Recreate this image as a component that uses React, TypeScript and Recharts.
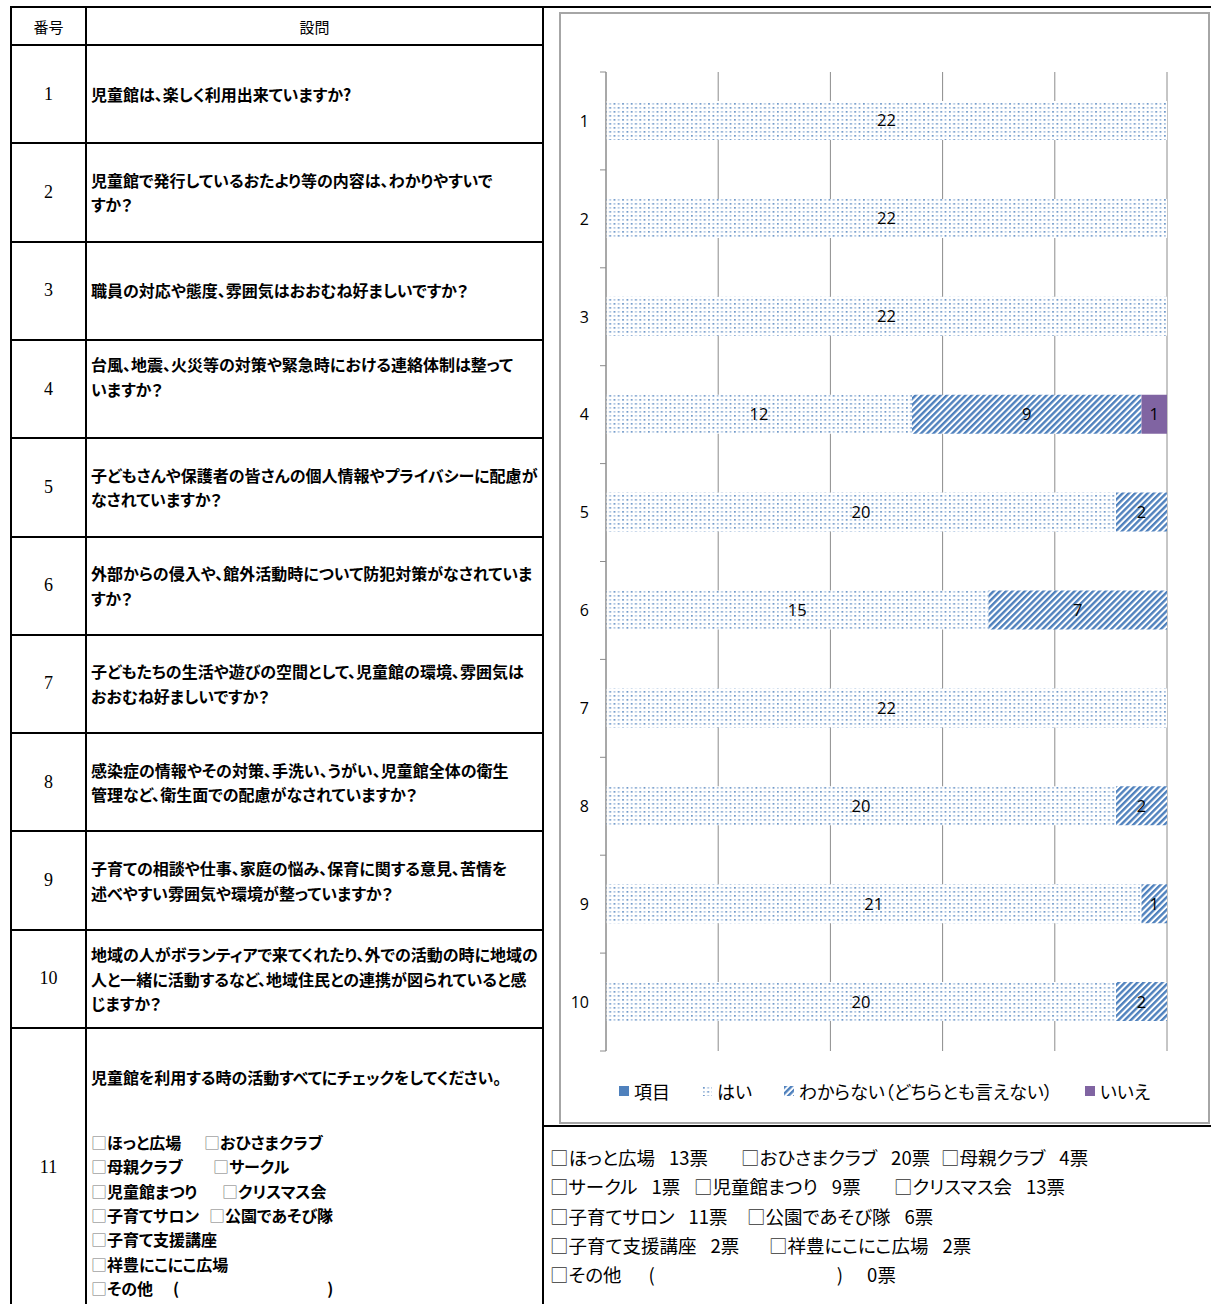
import { Bar, BarChart, CartesianGrid, LabelList, Legend, XAxis, YAxis } from "recharts";

// ---- survey data ----
const questionNos = ["1", "2", "3", "4", "5", "6", "7", "8", "9", "10"];
const yesVotes = [22, 22, 22, 12, 20, 15, 22, 20, 21, 20];
const unsureVotes = [0, 0, 0, 9, 2, 7, 0, 2, 1, 2];
const noVotes = [0, 0, 0, 1, 0, 0, 0, 0, 0, 0];
const shareTicks = [0, 0.2, 0.4, 0.6, 0.8, 1];

const questionLines = [
  ["児童館は、楽しく利用出来ていますか?"],
  ["児童館で発行しているおたより等の内容は、わかりやすいで", "すか？"],
  ["職員の対応や態度、雰囲気はおおむね好ましいですか？"],
  ["台風、地震、火災等の対策や緊急時における連絡体制は整って", "いますか？", ""],
  ["子どもさんや保護者の皆さんの個人情報やプライバシーに配慮が", "なされていますか？"],
  ["外部からの侵入や、館外活動時について防犯対策がなされていま", "すか？"],
  ["子どもたちの生活や遊びの空間として、児童館の環境、雰囲気は", "おおむね好ましいですか？"],
  ["感染症の情報やその対策、手洗い、うがい、児童館全体の衛生", "管理など、衛生面での配慮がなされていますか？"],
  ["子育ての相談や仕事、家庭の悩み、保育に関する意見、苦情を", "述べやすい雰囲気や環境が整っていますか？"],
  [
    "地域の人がボランティアで来てくれたり、外での活動の時に地域の",
    "人と一緒に活動するなど、地域住民との連携が図られていると感",
    "じますか？",
  ],
];
const q11Title = "児童館を利用する時の活動すべてにチェックをしてください。";
const activities = [
  "ほっと広場",
  "おひさまクラブ",
  "母親クラブ",
  "サークル",
  "児童館まつり",
  "クリスマス会",
  "子育てサロン",
  "公園であそび隊",
  "子育て支援講座",
  "祥豊にこにこ広場",
  "その他",
];
const activityVotes = [13, 20, 4, 1, 9, 13, 11, 6, 2, 2, 0];

// ---- layout (kept apart from the data) ----
const tableGroups = [[0, 1], [2, 3], [4, 5], [6, 7], [8], [9], [10]];
const tableLefts = [[91, 204], [91, 213], [91, 222], [91, 209], [91], [91], [91]];
const resultGroups = [[0, 1, 2], [3, 4, 5], [6, 7], [8, 9], [10]];
const resultLefts = [[550, 741, 941], [550, 694, 894], [550, 747], [550, 769], [550]];

const BLUE = "#4f81bd";
const PURPLE = "#8064a2";
const GRID = "#8c8c8c";
const JP = '"Noto Sans CJK JP", "Noto Sans", sans-serif';
const NUM = '"Open Sans", "Liberation Sans", sans-serif';

const legendSeries = [
  { name: "項目", fill: BLUE },
  { name: "はい", fill: "url(#dots)" },
  { name: "わからない（どちらとも言えない）", fill: "url(#stripes)" },
  { name: "いいえ", fill: PURPLE },
];

const chartData = questionNos.map((q, i) => ({
  q,
  yes: yesVotes[i],
  unsure: unsureVotes[i],
  no: noVotes[i],
}));

const ROW_TOP = 45;
const ROW_H = 98.3;

function HLine({ x1, x2, y }: { x1: number; x2: number; y: number }) {
  return <div style={{ position: "absolute", left: x1, top: y - 1, width: x2 - x1, height: 2, background: "#000" }} />;
}
function VLine({ x, y1, y2 }: { x: number; y1: number; y2: number }) {
  return <div style={{ position: "absolute", left: x - 1, top: y1, width: 2, height: y2 - y1, background: "#000" }} />;
}

function CategoryTick(props: any) {
  const { x, y, payload } = props;
  const half = payload?.offset ?? 49;
  const axisX = x + 8;
  const last = payload.value === questionNos[questionNos.length - 1];
  return (
    <g>
      <text x={x - 9} y={y} dy="0.36em" textAnchor="end" fontSize={16} fill="#000" fontFamily={NUM}>
        {payload.value}
      </text>
      <line x1={axisX - 6} x2={axisX} y1={y - half} y2={y - half} stroke={GRID} />
      {last && <line x1={axisX - 6} x2={axisX} y1={y + half} y2={y + half} stroke={GRID} />}
    </g>
  );
}

function CountLabel(props: any) {
  const vb = props.viewBox ?? props;
  const { value } = props;
  if (!value) return null;
  return (
    <text
      x={vb.x + vb.width / 2}
      y={vb.y + vb.height / 2}
      dy="0.36em"
      textAnchor="middle"
      fontSize={16.5}
      fill="#000"
      fontFamily={NUM}
    >
      {value}
    </text>
  );
}

function LegendRow() {
  return (
    <div style={{ display: "flex", justifyContent: "center", gap: 32, fontFamily: JP, fontSize: 18, lineHeight: "24px", color: "#000", fontFeatureSettings: '"palt"' }}>
      {legendSeries.map((s) => (
        <div key={s.name} style={{ display: "flex", alignItems: "center" }}>
          <svg width={10} height={10} style={{ marginRight: 5 }}>
            <rect width={10} height={10} fill={s.fill} />
          </svg>
          <span>{s.name}</span>
        </div>
      ))}
    </div>
  );
}

function ActivityItem({ idx, votes, bold }: { idx: number; votes: boolean; bold: boolean }) {
  const name = activities[idx];
  const box = <span style={{ color: bold ? "#777" : "#333", fontWeight: 400 }}>□</span>;
  if (name === "その他") {
    return (
      <span style={{ display: "flex", whiteSpace: "pre" }}>
        {box}
        {name}
        <span style={{ marginLeft: bold ? 20 : 27 }}>(</span>
        <span style={{ marginLeft: bold ? 148 : 182 }}>)</span>
        {votes && <span style={{ marginLeft: 24 }}>{activityVotes[idx]}票</span>}
      </span>
    );
  }
  return (
    <span style={{ display: "flex", whiteSpace: "pre" }}>
      {box}
      {name}
      {votes && <span style={{ marginLeft: 14 }}>{activityVotes[idx]}票</span>}
    </span>
  );
}

export default function App() {
  const rowLines = [ROW_TOP, ...questionNos.map((_, i) => ROW_TOP + (i + 1) * ROW_H)];
  return (
    <div
      style={{
        position: "absolute",
        left: 0,
        top: 0,
        width: 1211,
        height: 1304,
        background: "#fff",
        overflow: "hidden",
        fontFamily: JP,
        color: "#000",
      }}
    >
      {/* table frame */}
      <HLine x1={10} x2={1211} y={7} />
      <VLine x={11} y1={6} y2={1304} />
      <VLine x={86} y1={6} y2={1304} />
      <VLine x={543} y1={6} y2={1304} />
      {rowLines.map((y) => (
        <HLine key={y} x1={10} x2={544} y={y} />
      ))}
      <HLine x1={542} x2={1211} y={1126} />

      {/* header */}
      <div style={{ position: "absolute", left: 11, width: 75, top: 7, height: 38, display: "flex", alignItems: "center", justifyContent: "center", fontSize: 15 }}>
        番号
      </div>
      <div style={{ position: "absolute", left: 86, width: 457, top: 7, height: 38, display: "flex", alignItems: "center", justifyContent: "center", fontSize: 15 }}>
        設問
      </div>

      {/* question rows */}
      {questionLines.map((lines, i) => {
        const top = ROW_TOP + i * ROW_H;
        return (
          <div key={i}>
            <div
              style={{
                position: "absolute",
                left: 11,
                width: 75,
                top,
                height: ROW_H,
                display: "flex",
                alignItems: "center",
                justifyContent: "center",
                fontFamily: '"Liberation Serif", serif',
                fontSize: 18,
              }}
            >
              {questionNos[i]}
            </div>
            <div
              style={{
                position: "absolute",
                left: 91,
                width: 450,
                top,
                height: ROW_H,
                display: "flex",
                flexDirection: "column",
                justifyContent: "center",
                fontSize: 16,
                fontWeight: 700,
                lineHeight: "24.5px",
                whiteSpace: "nowrap",
                fontFeatureSettings: '"palt"',
              }}
            >
              {lines.map((l, k) => (
                <div key={k} style={{ height: 24.5 }}>{l}</div>
              ))}
            </div>
          </div>
        );
      })}

      {/* question 11 */}
      <div style={{ position: "absolute", left: 11, width: 75, top: 1155, height: 24, textAlign: "center", fontFamily: '"Liberation Serif", serif', fontSize: 18, lineHeight: "24px" }}>
        11
      </div>
      <div style={{ position: "absolute", left: 91, top: 1065, fontSize: 16, fontWeight: 700, lineHeight: "24.5px", whiteSpace: "nowrap", fontFeatureSettings: '"palt"' }}>
        {q11Title}
      </div>
      {tableGroups.map((g, k) => (
        <div key={k}>
          {g.map((idx, j) => (
            <div
              key={idx}
              style={{
                position: "absolute",
                left: tableLefts[k][j],
                top: 1130 + k * 24.3,
                fontSize: 16,
                fontWeight: 700,
                lineHeight: "24.3px",
                fontFeatureSettings: '"palt"',
              }}
            >
              <ActivityItem idx={idx} votes={false} bold />
            </div>
          ))}
        </div>
      ))}

      {/* chart */}
      <div
        style={{
          position: "absolute",
          left: 559,
          top: 12,
          width: 651,
          height: 1112,
          border: "2px solid #a6a6a6",
          boxSizing: "border-box",
        }}
      >
        <BarChart
          width={647}
          height={1108}
          data={chartData}
          layout="vertical"
          stackOffset="expand"
          margin={{ top: 58, right: 41, bottom: 71, left: 0 }}
        >
          <defs>
            <pattern id="dots" width="8.6" height="8" patternUnits="userSpaceOnUse">
              <rect width="8.6" height="8" fill="#fff" />
              <rect x="1" y="1" width="1.7" height="1.7" fill={BLUE} opacity={0.85} />
              <rect x="5.3" y="1" width="1.7" height="1.7" fill={BLUE} opacity={0.5} />
              <rect x="1" y="5" width="1.7" height="1.7" fill={BLUE} opacity={0.5} />
              <rect x="5.3" y="5" width="1.7" height="1.7" fill={BLUE} opacity={0.85} />
            </pattern>
            <pattern id="stripes" width="4.4" height="4.4" patternUnits="userSpaceOnUse" patternTransform="rotate(45)">
              <rect width="4.4" height="4.4" fill="#fff" />
              <rect width="2.4" height="4.4" fill={BLUE} />
            </pattern>
          </defs>
          <CartesianGrid horizontal={false} stroke={GRID} />
          <XAxis type="number" domain={[0, 1]} ticks={shareTicks} hide />
          <YAxis
            type="category"
            dataKey="q"
            width={45}
            axisLine={{ stroke: GRID }}
            tickLine={false}
            tickSize={6}
            tickMargin={2}
            tick={<CategoryTick />}
            interval={0}
          />
          <Legend
            layout="horizontal"
            verticalAlign="middle"
            align="center"
            wrapperStyle={{ top: 1065, left: 0, width: 647 }}
            content={() => <LegendRow />}
          />
          <Bar dataKey="yes" name="はい" stackId="a" fill="url(#dots)" barSize={39} isAnimationActive={false}>
            <LabelList dataKey="yes" position="center" content={<CountLabel />} />
          </Bar>
          <Bar dataKey="unsure" name="わからない（どちらとも言えない）" stackId="a" fill="url(#stripes)" barSize={39} isAnimationActive={false}>
            <LabelList dataKey="unsure" position="center" content={<CountLabel />} />
          </Bar>
          <Bar dataKey="no" name="いいえ" stackId="a" fill={PURPLE} barSize={39} isAnimationActive={false}>
            <LabelList dataKey="no" position="center" content={<CountLabel />} />
          </Bar>
        </BarChart>
      </div>

      {/* vote counts under the chart */}
      {resultGroups.map((g, k) => (
        <div key={k}>
          {g.map((idx, j) => (
            <div
              key={idx}
              style={{
                position: "absolute",
                left: resultLefts[k][j],
                top: 1143 + k * 29.3,
                fontSize: 18.5,
                lineHeight: "29px",
                fontFeatureSettings: '"palt"',
              }}
            >
              <ActivityItem idx={idx} votes bold={false} />
            </div>
          ))}
        </div>
      ))}
    </div>
  );
}
